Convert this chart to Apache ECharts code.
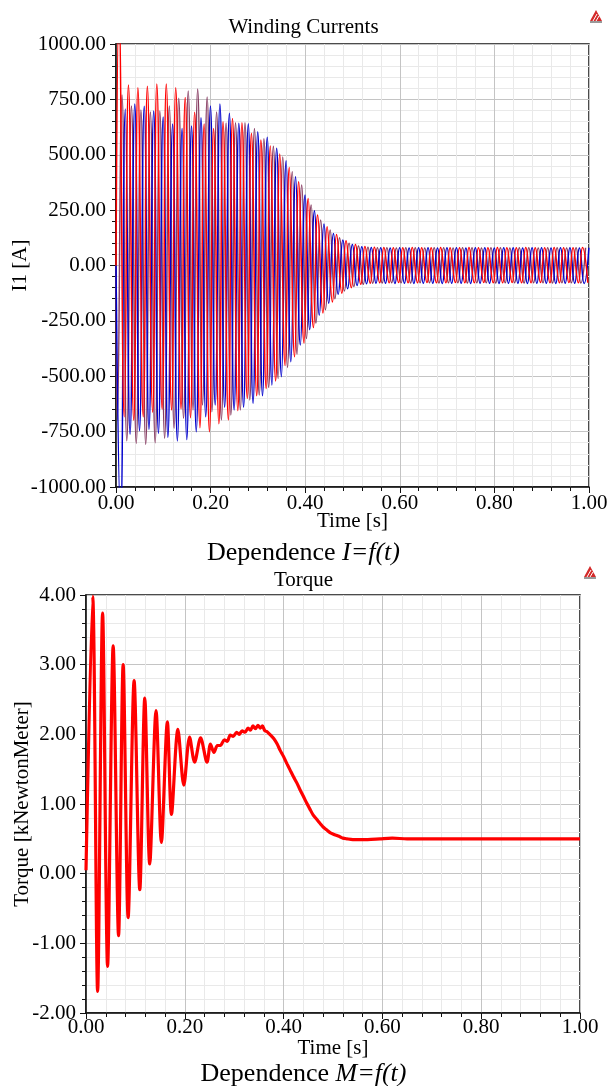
<!DOCTYPE html>
<html>
<head>
<meta charset="utf-8">
<script src="https://cdn.jsdelivr.net/npm/echarts@6/dist/echarts.min.js"></script>
<style>
html,body{margin:0;padding:0;background:#fff;}
#c{width:607px;height:1086px;}
</style>
</head>
<body>
<div id="c"></div>
<script>
// ---------------- DATA ----------------
// Winding currents: successive positive / negative peaks of each phase [A]
const PERIOD = 0.02; // s, one electrical cycle
const redHiStart = 0.0063, redLoStart = 0.0175;
const purpleLoStart = 0.0028, purpleHiStart = 0.0127;
const blueLoStart = 0.0097, blueHiStart = 0.0197;

const redHi = [1150, 815, 803, 809, 819, 819, 803, 758, 692, 639,
  619, 649, 664, 645, 597, 567, 539, 503, 443, 378,
  303, 228, 175, 140, 112, 95, 86, 82, 81, 80,
  80, 81, 80, 80, 81, 80, 80, 81, 80, 80,
  81, 80, 80, 81, 80, 80, 81, 80, 80, 81];
const redLo = [-683, -699, -683, -663, -649, -652, -648, -687, -732, -750,
  -714, -697, -655, -600, -588, -555, -521, -452, -412, -350,
  -280, -215, -165, -125, -100, -85, -80, -78, -78, -77,
  -78, -78, -77, -78, -78, -77, -78, -78, -77, -78,
  -78, -77, -78, -78, -77, -78, -78, -77, -78, -78];
const purpleHi = [770, 720, 702, 693, 697, 720, 755, 788, 797, 761,
  693, 643, 645, 645, 619, 572, 538, 490, 423, 363,
  273, 205, 160, 125, 100, 88, 82, 80, 80, 79,
  80, 80, 79, 80, 80, 79, 80, 80, 79, 80,
  80, 79, 80, 80, 79, 80, 80, 79, 80, 80];
const purpleLo = [-697, -791, -804, -808, -800, -780, -735, -690, -652, -630,
  -660, -697, -675, -652, -607, -585, -550, -510, -460, -400,
  -330, -260, -200, -150, -115, -95, -85, -80, -79, -78,
  -78, -79, -78, -78, -79, -78, -78, -79, -78, -78,
  -79, -78, -78, -79, -78, -78, -79, -78, -78, -79];
const blueHi = [706, 729, 719, 697, 670, 639, 618, 630, 667, 720,
  729, 687, 642, 640, 604, 579, 529, 473, 401, 318,
  247, 187, 145, 115, 95, 85, 81, 80, 79, 80,
  79, 80, 80, 79, 80, 80, 79, 80, 80, 79,
  80, 80, 79, 80, 80, 79, 80, 80, 79, 80];
const blueLo = [-1150, -762, -746, -740, -758, -776, -792, -786, -750, -683,
  -630, -640, -652, -640, -622, -588, -540, -502, -434, -359,
  -290, -225, -170, -130, -105, -90, -82, -80, -80, -81,
  -80, -81, -80, -80, -81, -80, -80, -81, -80, -80,
  -81, -80, -80, -81, -80, -80, -81, -80, -80, -81];

// Torque [kNm] vs time [s]
const torqueT = [0, 0.0135, 0.0235, 0.0336, 0.0437, 0.055, 0.0659, 0.0752, 0.0853, 0.0974,
  0.1089, 0.119, 0.129, 0.1418, 0.1526, 0.1647, 0.173, 0.186, 0.198, 0.2097,
  0.2198, 0.232, 0.245, 0.252, 0.259, 0.266, 0.272, 0.28, 0.286, 0.292,
  0.298, 0.305, 0.31, 0.316, 0.322, 0.328, 0.333, 0.338, 0.343, 0.348,
  0.353, 0.357, 0.362, 0.366, 0.372, 0.38, 0.387, 0.393, 0.40, 0.4067,
  0.413, 0.42, 0.427, 0.4335, 0.44, 0.447, 0.453, 0.46, 0.467, 0.474,
  0.48, 0.487, 0.494, 0.50, 0.507, 0.514, 0.52, 0.528, 0.54, 0.554,
  0.57, 0.595, 0.62, 0.65, 0.675, 0.70, 0.75, 0.80, 0.85, 0.90,
  0.95, 1.0];
const torqueV = [0.05, 3.98, -1.69, 3.74, -1.33, 3.27, -0.89, 3.00, -0.63, 2.77,
  -0.23, 2.52, 0.14, 2.34, 0.45, 2.18, 0.85, 2.07, 1.27, 1.96,
  1.60, 1.95, 1.60, 1.86, 1.74, 1.84, 1.84, 1.92, 1.90, 1.99,
  1.97, 2.03, 2.00, 2.05, 2.03, 2.09, 2.06, 2.12, 2.08, 2.13,
  2.09, 2.12, 2.05, 2.04, 2.00, 1.94, 1.86, 1.77, 1.68, 1.58,
  1.49, 1.39, 1.30, 1.20, 1.11, 1.01, 0.93, 0.84, 0.78, 0.72,
  0.67, 0.63, 0.59, 0.57, 0.55, 0.53, 0.51, 0.50, 0.49, 0.49,
  0.49, 0.50, 0.51, 0.50, 0.50, 0.50, 0.50, 0.50, 0.50, 0.50,
  0.50, 0.50];

// ---------------- BUILD ----------------
function phase(hiStart, hi, loStart, lo) {
  const pts = [[0, 0]];
  hi.forEach((v, k) => pts.push([hiStart + k * PERIOD, v]));
  lo.forEach((v, k) => pts.push([loStart + k * PERIOD, v]));
  pts.sort((a, b) => a[0] - b[0]);
  return pts;
}
const redData = phase(redHiStart, redHi, redLoStart, redLo);
const purpleData = phase(purpleHiStart, purpleHi, purpleLoStart, purpleLo);
const blueData = phase(blueHiStart, blueHi, blueLoStart, blueLo);
const torqueData = torqueT.map((t, i) => [t, torqueV[i]]);

const FONT = "'Liberation Serif','Times New Roman',serif";
const MAJOR = '#c4c4c4', MINOR = '#e9e9e9';

function xAxis(gridIndex, margin, nameGap) {
  return {
    type: 'value', gridIndex, min: 0, max: 1, interval: 0.2,
    name: 'Time [s]', nameLocation: 'middle', nameGap, nameMoveOverlap: false,
    nameTextStyle: {fontFamily: FONT, fontSize: 21, color: '#000'},
    axisLine: {show: true, onZero: false, lineStyle: {color: '#111', width: 1.5}},
    axisTick: {show: true, inside: false, length: 6, lineStyle: {color: '#111'}},
    minorTick: {show: true, splitNumber: 5, length: 4, lineStyle: {color: '#111'}},
    axisLabel: {fontFamily: FONT, fontSize: 21, color: '#000', margin,
      formatter: v => v.toFixed(2)},
    splitLine: {show: true, lineStyle: {color: MAJOR, width: 1}},
    minorSplitLine: {show: true, lineStyle: {color: MINOR, width: 1}}
  };
}
function yAxis(gridIndex, min, max, interval, name, nameGap) {
  return {
    type: 'value', gridIndex, min, max, interval,
    name, nameLocation: 'middle', nameGap, nameMoveOverlap: false,
    nameTextStyle: {fontFamily: FONT, fontSize: 21, color: '#000'},
    axisLine: {show: true, onZero: false, lineStyle: {color: '#111', width: 1.5}},
    axisTick: {show: true, inside: false, length: 6, lineStyle: {color: '#111'}},
    minorTick: {show: true, splitNumber: 5, length: 4, lineStyle: {color: '#111'}},
    axisLabel: {fontFamily: FONT, fontSize: 21, color: '#000', margin: 10,
      formatter: v => v.toFixed(2)},
    splitLine: {show: true, lineStyle: {color: MAJOR, width: 1}},
    minorSplitLine: {show: true, lineStyle: {color: MINOR, width: 1}}
  };
}

function logo(x, y) {
  return {
    type: 'group', left: x, top: y, children: [
      {type: 'polygon', shape: {points: [[6, 0], [12, 11], [0, 11]]}, style: {fill: '#d42a2a'}},
      {type: 'polyline', shape: {points: [[3, 11], [7, 4]]}, style: {stroke: '#fff', lineWidth: 1}},
      {type: 'polyline', shape: {points: [[6, 11], [9, 6]]}, style: {stroke: '#fff', lineWidth: 1}},
      {type: 'rect', shape: {x: 0, y: 11, width: 12, height: 2}, style: {fill: '#999'}}
    ]
  };
}

const richDep = {
  n: {fontFamily: FONT, fontSize: 26, fontWeight: 'normal', color: '#000'},
  i: {fontFamily: FONT, fontSize: 26, fontWeight: 'normal', fontStyle: 'italic', color: '#000'}
};

const chart = echarts.init(document.getElementById('c'), null, {renderer: 'canvas'});
chart.setOption({
  backgroundColor: '#fff',
  animation: false,
  title: [
    {text: 'Winding Currents', left: 'center', top: 12,
      textStyle: {fontFamily: FONT, fontSize: 21, fontWeight: 'normal', color: '#000'}},
    {text: '{n|Dependence }{i|I=f(t)}', left: 'center', top: 535,
      textStyle: {fontWeight: 'normal', rich: richDep}},
    {text: 'Torque', left: 'center', top: 565,
      textStyle: {fontFamily: FONT, fontSize: 21, fontWeight: 'normal', color: '#000'}},
    {text: '{n|Dependence }{i|M=f(t)}', left: 'center', top: 1056,
      textStyle: {fontWeight: 'normal', rich: richDep}}
  ],
  grid: [
    {left: 116, top: 44, width: 473, height: 443, containLabel: false, outerBoundsMode: 'none',
      show: true, borderColor: '#111', borderWidth: 1.5, backgroundColor: '#fff'},
    {left: 86, top: 595, width: 494, height: 418, containLabel: false, outerBoundsMode: 'none',
      show: true, borderColor: '#111', borderWidth: 1.5, backgroundColor: '#fff'}
  ],
  xAxis: [xAxis(0, 6, 24), xAxis(1, 4, 25)],
  yAxis: [
    yAxis(0, -1000, 1000, 250, 'I1 [A]', 85),
    yAxis(1, -2, 4, 1, 'Torque [kNewtonMeter]', 53)
  ],
  graphic: [logo(590, 10), logo(584, 566)],
  series: [
    {type: 'line', xAxisIndex: 0, yAxisIndex: 0, data: purpleData, showSymbol: false, smooth: 0.5,
      lineStyle: {color: '#873c62', width: 1.5}, clip: true},
    {type: 'line', xAxisIndex: 0, yAxisIndex: 0, data: blueData, showSymbol: false, smooth: 0.5,
      lineStyle: {color: '#0000cc', width: 1.5}, clip: true},
    {type: 'line', xAxisIndex: 0, yAxisIndex: 0, data: redData, showSymbol: false, smooth: 0.5,
      lineStyle: {color: '#ff0000', width: 1.5}, clip: true},
    {type: 'line', xAxisIndex: 1, yAxisIndex: 1, data: torqueData, showSymbol: false, smooth: 0.3,
      lineStyle: {color: '#ff0000', width: 3.2}, clip: true}
  ]
});
</script>
</body>
</html>
